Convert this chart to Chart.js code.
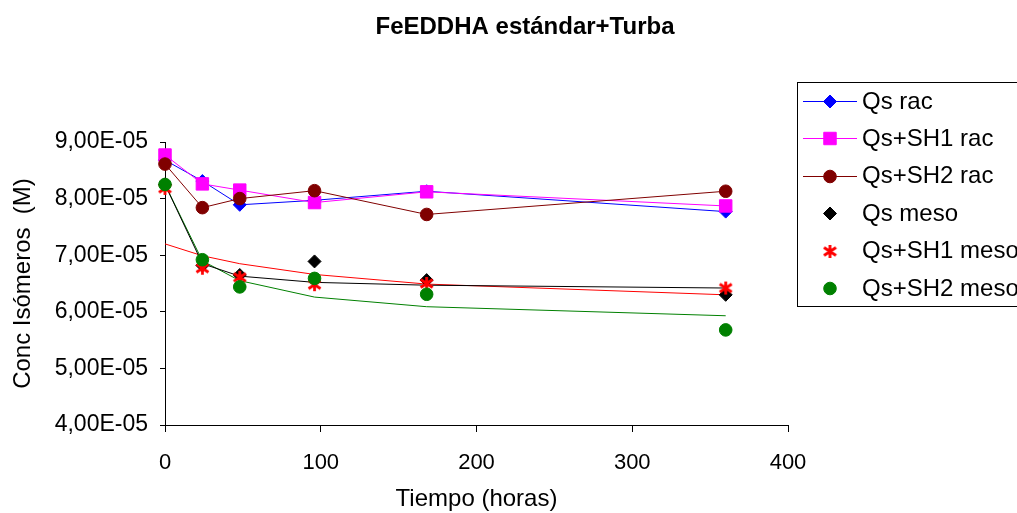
<!DOCTYPE html>
<html>
<head>
<meta charset="utf-8">
<script src="https://cdn.jsdelivr.net/npm/chart.js"></script>
<style>
  html, body { margin: 0; padding: 0; background: #fff; }
  #wrap { width: 1017px; height: 513px; }
</style>
</head>
<body>
<div id="wrap"><canvas id="c" width="1017" height="513"></canvas></div>
<script>
// ---- Data (concentrations in units of 1E-05 M) ----
const hours = [0, 24, 48, 96, 168, 360];
const seriesNames = ['Qs rac', 'Qs+SH1 rac', 'Qs+SH2 rac', 'Qs meso', 'Qs+SH1 meso', 'Qs+SH2 meso'];
const qsRac      = [8.68, 8.31, 7.89, 7.97, 8.13, 7.77];
const qsSh1Rac   = [8.77, 8.26, 8.15, 7.93, 8.12, 7.87];
const qsSh2Rac   = [8.61, 7.84, 8.00, 8.14, 7.72, 8.13];
const qsMeso     = [8.25, 6.82, 6.65, 6.89, 6.56, 6.30];
const qsSh1Meso  = [8.18, 6.77, 6.61, 6.48, 6.50, 6.42];
const qsSh2Meso  = [8.25, 6.92, 6.44, 6.59, 6.31, 5.68];
// fitted curves drawn for the meso series
const fitQsMeso    = [8.25, 6.85, 6.63, 6.52, 6.47, 6.42];
const fitQsSh1Meso = [7.20, 6.99, 6.85, 6.66, 6.49, 6.30];
const fitQsSh2Meso = [8.25, 6.90, 6.55, 6.26, 6.09, 5.93];
const yTickValues = [4, 5, 6, 7, 8, 9];
const xTickValues = [0, 100, 200, 300, 400];
const UNIT = 1e-5;

const FONT = "'Liberation Sans', Arial, sans-serif";

function pts(arr) { return hours.map((h, i) => ({ x: h, y: arr[i] * UNIT })); }

// asterisk marker
function makeStar(color) {
  const c = document.createElement('canvas');
  c.width = 15; c.height = 15;
  const g = c.getContext('2d');
  g.strokeStyle = color; g.lineWidth = 2.8; g.lineCap = 'butt';
  g.beginPath();
  g.moveTo(7.5, 1); g.lineTo(7.5, 14);
  g.moveTo(1.5, 3.5); g.lineTo(13.5, 11.5);
  g.moveTo(1.5, 11.5); g.lineTo(13.5, 3.5);
  g.stroke();
  return c;
}
const starRed = makeStar('#FF0000');

function markerSet(label, data, color, style, radius, showLine, idx) {
  return {
    label, data: pts(data), showLine,
    borderColor: color, backgroundColor: color, borderWidth: 1,
    pointStyle: style, pointRadius: radius, pointHoverRadius: radius,
    pointBackgroundColor: color, pointBorderColor: color, pointBorderWidth: 1,
    order: 100 - idx, clip: false, inLegend: true
  };
}
function fitSet(label, data, color) {
  return {
    label, data: pts(data), showLine: true,
    borderColor: color, backgroundColor: color, borderWidth: 1,
    pointRadius: 0, pointHoverRadius: 0, order: 200, clip: false, inLegend: false
  };
}

const datasets = [
  markerSet(seriesNames[0], qsRac, '#0000FF', 'rectRot', 6.5, true, 0),
  markerSet(seriesNames[1], qsSh1Rac, '#FF00FF', 'rect', 8.8, true, 1),
  markerSet(seriesNames[2], qsSh2Rac, '#800000', 'circle', 6.3, true, 2),
  markerSet(seriesNames[3], qsMeso, '#000000', 'rectRot', 6.5, false, 3),
  markerSet(seriesNames[4], qsSh1Meso, '#FF0000', starRed, 7.5, false, 4),
  markerSet(seriesNames[5], qsSh2Meso, '#008000', 'circle', 6.3, false, 5),
  fitSet('fit Qs meso', fitQsMeso, '#000000'),
  fitSet('fit Qs+SH1 meso', fitQsSh1Meso, '#FF0000'),
  fitSet('fit Qs+SH2 meso', fitQsSh2Meso, '#008000')
];

function drawMarker(ctx, ds, x, y) {
  const r = ds.pointRadius, st = ds.pointStyle;
  ctx.save();
  ctx.fillStyle = ds.pointBackgroundColor; ctx.strokeStyle = ds.pointBorderColor; ctx.lineWidth = 1;
  if (st instanceof HTMLCanvasElement) {
    ctx.drawImage(st, x - st.width / 2, y - st.height / 2);
  } else {
    ctx.beginPath();
    if (st === 'circle') ctx.arc(x, y, r, 0, Math.PI * 2);
    else if (st === 'rect') { const s = Math.SQRT1_2 * r; ctx.rect(x - s, y - s, 2 * s, 2 * s); }
    else if (st === 'rectRot') { ctx.moveTo(x, y - r); ctx.lineTo(x + r, y); ctx.lineTo(x, y + r); ctx.lineTo(x - r, y); ctx.closePath(); }
    ctx.fill(); ctx.stroke();
  }
  ctx.restore();
}

const legendPlugin = {
  id: 'boxLegend',
  afterDraw(chart) {
    const ctx = chart.ctx;
    ctx.save();
    ctx.strokeStyle = '#000'; ctx.lineWidth = 1;
    ctx.strokeRect(797.5, 82.5, 300, 224);
    ctx.font = '24px ' + FONT;
    ctx.fillStyle = '#000'; ctx.textBaseline = 'middle'; ctx.textAlign = 'left';
    let i = 0;
    chart.data.datasets.forEach(ds => {
      if (!ds.inLegend) return;
      const y = 101 + i * 37.4;
      if (ds.showLine) {
        ctx.strokeStyle = ds.borderColor; ctx.lineWidth = 1;
        ctx.beginPath(); ctx.moveTo(803, Math.round(y) + 0.5); ctx.lineTo(857, Math.round(y) + 0.5); ctx.stroke();
      }
      drawMarker(ctx, ds, 830, Math.round(y) + 0.5);
      ctx.fillStyle = '#000';
      ctx.fillText(ds.label, 862, y + 1);
      i++;
    });
    ctx.restore();
  }
};

new Chart(document.getElementById('c'), {
  type: 'scatter',
  data: { datasets },
  plugins: [legendPlugin],
  options: {
    responsive: false,
    animation: false,
    events: [],
    layout: { padding: { left: 33, right: 0, top: 0, bottom: 0 } },
    plugins: {
      legend: { display: false },
      tooltip: { enabled: false },
      title: {
        display: true,
        text: 'FeEDDHA estándar+Turba',
        color: '#000',
        font: { family: FONT, size: 24, weight: 'bold', lineHeight: 1.2 },
        padding: { top: 13, bottom: 100.2 }
      }
    },
    scales: {
      x: {
        type: 'linear', position: 'bottom', min: 0, max: 400,
        afterBuildTicks: s => { s.ticks = xTickValues.map(v => ({ value: v })); },
        afterFit: s => { s.height = 88; },
        grid: { display: true, drawOnChartArea: false, drawTicks: true, tickLength: 7, color: '#000' },
        border: { display: true, color: '#000', width: 1 },
        ticks: { color: '#000', padding: 18, maxRotation: 0, font: { family: FONT, size: 22 } },
        title: { display: true, text: 'Tiempo (horas)', color: '#000', padding: { top: 0, bottom: -1 }, font: { family: FONT, size: 24 } }
      },
      y: {
        type: 'linear', position: 'left', min: 4 * UNIT, max: 9 * UNIT,
        afterBuildTicks: s => { s.ticks = yTickValues.map(v => ({ value: v * UNIT })); },
        afterFit: s => { s.width = 132; },
        grid: { display: true, drawOnChartArea: false, drawTicks: true, tickLength: 5, color: '#000' },
        border: { display: true, color: '#000', width: 1 },
        ticks: {
          color: '#000', padding: 12, font: { family: FONT, size: 23 },
          callback: v => (v / UNIT).toFixed(2).replace('.', ',') + 'E-05'
        },
        title: { display: true, text: 'Conc Isómeros  (M)', color: '#000', padding: { top: -24.4, bottom: 0 }, font: { family: FONT, size: 24 } }
      },
      yR: {
        type: 'linear', position: 'right', display: true,
        afterFit: s => { s.width = 229; },
        grid: { display: false, drawTicks: false },
        border: { display: false },
        ticks: { display: false }
      }
    }
  }
});
</script>
</body>
</html>
